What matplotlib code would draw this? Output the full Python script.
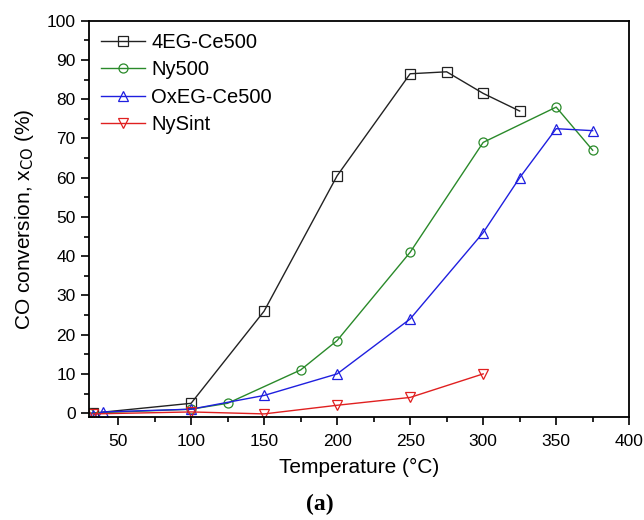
import numpy as np
import matplotlib.pyplot as plt
from matplotlib.ticker import MultipleLocator

plt.rcParams['font.family'] = ['Liberation Sans', 'DejaVu Sans']

# Data
x_4eg = [33, 100, 150, 200, 250, 275, 300, 325]
y_4eg = [0, 2.5, 26, 60.5, 86.5, 87, 81.5, 77]

x_ny500 = [30, 100, 125, 175, 200, 250, 300, 350, 375]
y_ny500 = [0, 1, 2.5, 11, 18.5, 41, 69, 78, 67]

x_oxeg = [33, 40, 100, 150, 200, 250, 300, 325, 350, 375]
y_oxeg = [-0.5, 0.3, 1, 4.5, 10, 24, 46, 60, 72.5, 72]

x_nysint = [33, 100, 150, 200, 250, 300]
y_nysint = [-0.2, 0.3, -0.2, 2, 4, 10]

series = [
    ("4EG-Ce500", x_4eg, y_4eg, '#222222', 's'),
    ("Ny500", x_ny500, y_ny500, '#2a8a2a', 'o'),
    ("OxEG-Ce500", x_oxeg, y_oxeg, '#1f1fdf', '^'),
    ("NySint", x_nysint, y_nysint, '#e02020', 'v'),
]

fig = plt.figure(figsize=(6.44, 5.2), dpi=100)
ax = fig.add_axes([0.138, 0.198, 0.839, 0.762])

for label, xs, ys, color, marker in series:
    ax.plot(xs, ys, color=color, marker=marker, markersize=6.5, markerfacecolor='none',
            markeredgecolor=color, markeredgewidth=0.9, linewidth=1.0, label=label)

ax.set_xlim(30, 400)
ax.set_ylim(-1, 100)
ax.xaxis.set_major_locator(MultipleLocator(50))
ax.xaxis.set_minor_locator(MultipleLocator(25))
ax.yaxis.set_major_locator(MultipleLocator(10))
ax.yaxis.set_minor_locator(MultipleLocator(5))
ax.set_xticks(np.arange(50, 401, 50))
ax.tick_params(which='major', direction='out', length=6, width=1.2, labelsize=12.5)
ax.tick_params(axis='x', which='major', pad=6)
ax.tick_params(which='minor', direction='out', length=3.5, width=1.2)
for s in ax.spines.values():
    s.set_linewidth(1.3)

ax.set_xlabel('Temperature (°C)', fontsize=15, labelpad=7)
ax.set_ylabel('CO conversion, x$_{\\mathrm{CO}}$ (%)', fontsize=15, labelpad=8)

ax.legend(loc='upper left', frameon=False, fontsize=14.5, handlelength=2.2,
          borderaxespad=0.2, labelspacing=0.42, handletextpad=0.3)

fig.text(0.497, 0.03, '(a)', ha='center', va='center', fontsize=17,
         fontweight='bold', family='Liberation Serif')

fig.savefig('out.png', dpi=100)
